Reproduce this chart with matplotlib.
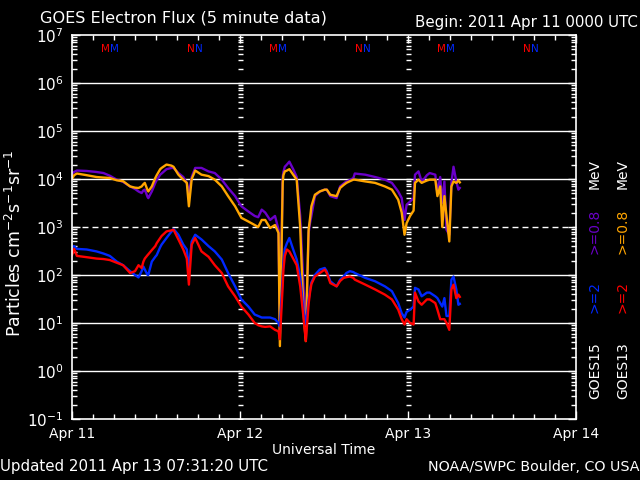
import numpy as np
import matplotlib
matplotlib.use('Agg')
import matplotlib.pyplot as plt
from matplotlib.ticker import MultipleLocator, LogLocator, NullFormatter, FixedLocator

# hours since 2011 Apr 11 0000 UTC
hours = [0.0, 0.3, 0.7, 2.1, 3.5, 4.5, 5.4, 6.4, 7.3, 8.3, 9.0, 9.5, 9.95, 10.2, 10.4, 10.8, 10.9,
         11.4, 11.9, 12.1, 12.6, 12.8, 13.5, 14.2, 14.5, 15.2, 15.9, 16.4, 16.7, 17.1, 17.6, 18.5,
         19.5, 20.4, 21.4, 22.3, 23.3, 24.2, 25.2, 26.1, 26.6, 27.1, 27.6, 28.3, 29.0, 29.5, 29.7,
         30.1, 30.2, 30.4, 30.7, 31.05, 31.6, 32.1, 32.6, 33.05, 33.4, 33.8, 34.0, 34.2, 34.7, 35.4,
         36.1, 36.4, 36.9, 37.8, 38.3, 38.8, 39.2, 39.7, 40.2, 40.4, 41.9, 43.3, 44.7, 45.7, 46.6,
         47.1, 47.5, 47.8, 48.3, 48.8, 49.0, 49.5, 49.95, 50.4, 50.7, 51.1, 51.9, 52.2, 52.6, 52.9,
         53.2, 53.5, 53.9, 54.2, 54.5, 54.9, 55.2, 55.4]

# GOES15 >=0.8 MeV
g15_e08 = [1.3e4, 1.4e4, 1.5e4, 1.47e4, 1.4e4, 1.33e4, 1.17e4, 9.7e3, 8.7e3, 7.0e3, 6.2e3, 5.5e3, 5.1e3, 5.8e3, 6.0e3, 4.2e3, 4.0e3,
           5.5e3, 8.3e3, 9.5e3, 1.23e4, 1.3e4, 1.6e4, 1.7e4, 1.7e4, 1.33e4, 1.1e4, 8.3e3, 5.1e3, 1.1e4, 1.7e4, 1.7e4,
           1.44e4, 1.33e4, 9.7e3, 6.5e3, 4.4e3, 2.7e3, 2.1e3, 1.7e3, 1.6e3, 2.3e3, 2.0e3, 1.4e3, 1.7e3, 8.8e2, 6.0,
           1.1e4, 1.4e4, 1.8e4, 2.0e4, 2.3e4, 1.6e4, 1.1e4, 1.7e3, 6.8e1, 7.2, 7.5e2, 1.2e3, 1.7e3, 4.4e3, 5.5e3,
           6.0e3, 6.0e3, 4.4e3, 4.0e3, 7.0e3, 8.0e3, 8.9e3, 9.5e3, 1.05e4, 1.3e4, 1.23e4, 1.1e4, 9.7e3, 8.3e3, 5.5e3,
           4.0e3, 1.4e3, 2.9e3, 3.4e3, 4.0e3, 1.23e4, 1.44e4, 8.9e3, 1.05e4, 1.2e4, 1.33e4, 1.23e4, 5.1e3, 1.1e4, 3.2e3,
           8.9e3, 8.8e2, 6.9e2, 8.3e3, 1.8e4, 8.9e3, 6.0e3, 6.5e3]

# GOES13 >=0.8 MeV
g13_e08 = [1.0e4, 1.2e4, 1.3e4, 1.2e4, 1.1e4, 1.07e4, 1.05e4, 9.4e3, 9.0e3, 7.0e3, 6.6e3, 6.5e3, 7.0e3, 7.8e3, 8.3e3, 5.8e3, 5.5e3,
           7.0e3, 1.05e4, 1.2e4, 1.6e4, 1.7e4, 2.0e4, 1.9e4, 1.8e4, 1.23e4, 9.7e3, 8.3e3, 2.7e3, 1.0e4, 1.5e4, 1.23e4,
           1.15e4, 9.7e3, 7.0e3, 4.4e3, 2.7e3, 1.55e3, 1.3e3, 1.1e3, 1.0e3, 1.4e3, 1.4e3, 9.5e2, 1.1e3, 7.5e2, 3.3,
           8.3e3, 1.2e4, 1.44e4, 1.5e4, 1.6e4, 1.23e4, 9.7e3, 1.0e3, 1.9e1, 4.2, 8.8e2, 1.5e3, 2.7e3, 4.7e3, 5.5e3,
           6.0e3, 6.0e3, 4.7e3, 4.4e3, 6.5e3, 7.5e3, 8.3e3, 9.0e3, 9.7e3, 9.7e3, 8.9e3, 8.3e3, 7.0e3, 6.0e3, 3.7e3,
           2.0e3, 6.9e2, 1.2e3, 1.7e3, 2.2e3, 8.3e3, 9.7e3, 8.3e3, 8.9e3, 9.3e3, 9.7e3, 9.7e3, 4.4e3, 7.0e3, 1.0e3,
           4.4e3, 1.7e3, 5.0e2, 7.0e3, 8.9e3, 8.3e3, 9.3e3, 8.5e3]

# GOES15 >=2 MeV
g15_e2 = [3.8e2, 4.0e2, 3.5e2, 3.4e2, 3.1e2, 2.8e2, 2.5e2, 1.9e2, 1.6e2, 1.2e2, 1.0e2, 8.9e1, 1.2e2, 1.5e2, 1.3e2, 1.0e2, 1.0e2,
          1.9e2, 2.4e2, 2.6e2, 3.8e2, 4.3e2, 5.9e2, 8.0e2, 9.1e2, 6.9e2, 4.3e2, 3.4e2, 1.4e2, 5.0e2, 6.9e2, 5.5e2,
          4.0e2, 3.1e2, 2.1e2, 1.1e2, 5.8e1, 3.1e1, 2.2e1, 1.5e1, 1.4e1, 1.3e1, 1.3e1, 1.3e1, 1.2e1, 1.0e1, 8.5,
          1.0e2, 1.8e2, 3.5e2, 4.6e2, 5.9e2, 3.4e2, 2.1e2, 9.3e1, 1.9e1, 9.3, 3.0e1, 4.9e1, 7.0e1, 1.0e2, 1.3e2,
          1.4e2, 1.2e2, 7.4e1, 5.8e1, 8.0e1, 9.3e1, 1.1e2, 1.2e2, 1.15e2, 1.1e2, 8.7e1, 7.4e1, 5.8e1, 4.6e1, 2.6e1,
          1.6e1, 1.3e1, 1.7e1, 1.9e1, 2.2e1, 5.4e1, 5.0e1, 3.6e1, 4.0e1, 4.3e1, 4.3e1, 3.6e1, 3.3e1, 2.6e1, 2.2e1,
          3.3e1, 1.4e1, 1.4e1, 8.0e1, 9.3e1, 5.0e1, 2.4e1, 2.5e1]

# GOES13 >=2 MeV
g13_e2 = [2.6e2, 3.5e2, 2.5e2, 2.35e2, 2.2e2, 2.15e2, 2.05e2, 1.8e2, 1.6e2, 1.1e2, 1.2e2, 1.6e2, 1.4e2, 1.9e2, 2.2e2, 2.6e2, 2.7e2,
          3.3e2, 4.0e2, 4.6e2, 5.9e2, 6.5e2, 8.1e2, 8.5e2, 8.8e2, 5.5e2, 3.4e2, 2.2e2, 6.3e1, 4.3e2, 5.9e2, 3.1e2,
          2.4e2, 1.6e2, 1.1e2, 5.8e1, 3.6e1, 2.2e1, 1.5e1, 1.0e1, 9.0, 8.5, 8.3, 8.5, 7.2, 6.7, 4.6,
          6.0e1, 1.3e2, 2.5e2, 3.4e2, 3.1e2, 2.2e2, 1.6e2, 5.8e1, 1.4e1, 4.2, 2.5e1, 4.3e1, 6.5e1, 9.3e1, 1.1e2,
          1.3e2, 1.1e2, 6.8e1, 5.8e1, 7.5e1, 8.7e1, 9.0e1, 9.3e1, 8.7e1, 8.0e1, 6.3e1, 5.0e1, 3.9e1, 3.1e1, 1.9e1,
          1.2e1, 9.3, 1.2e1, 1.0e1, 9.3, 4.3e1, 2.8e1, 2.4e1, 2.8e1, 3.1e1, 3.1e1, 2.6e1, 1.9e1, 1.2e1, 1.2e1,
          1.2e1, 1.0e1, 7.2, 5.0e1, 6.3e1, 3.3e1, 3.9e1, 3.5e1]

day_labels = ['Apr 11', 'Apr 12', 'Apr 13', 'Apr 14']
# local midnight (M) / noon (N) markers, UTC hour where GOES13 (red) and GOES15 (blue) letters meet
midnight_hour = 5.45
noon_hour = 17.55

purple = '#6a00c8'
orange = '#ffa500'
blue = '#0028ff'
red = '#ff0000'

fig = plt.figure(figsize=(6.4, 4.8), dpi=100, facecolor='black')
ax = fig.add_axes([72/640, 61/480, 504/640, 384/480], facecolor='black')

days = np.array(hours) / 24.0

# grid lines
for k in range(0, 7):
    if k == 3:
        ax.axhline(10.0**k, color='white', lw=1.0, dashes=(4.3, 2.9))
    else:
        ax.axhline(10.0**k, color='white', lw=1.0)

# minor tick columns at day boundaries
col_vals = [m * 10.0**k for k in range(-1, 7) for m in range(1, 10)]
for d in [1, 2]:
    ax.plot([d] * len(col_vals), col_vals, ls='none', marker='_', ms=3.6, mew=1.0, color='white')

ax.plot(days, g15_e08, color=purple, lw=1.7)
ax.plot(days, g13_e08, color=orange, lw=1.7)
ax.plot(days, g15_e2, color=blue, lw=1.7)
ax.plot(days, g13_e2, color=red, lw=1.7)

ax.set_yscale('log')
ax.set_ylim(1e-1, 1e7)
ax.set_xlim(0, 3)

ax.xaxis.set_major_locator(FixedLocator([0, 1, 2, 3]))
ax.xaxis.set_minor_locator(MultipleLocator(0.125))
ax.set_xticklabels(day_labels, fontsize=10, color='white')
ax.yaxis.set_minor_locator(LogLocator(base=10, subs=range(2, 10), numticks=20))
ax.yaxis.set_minor_formatter(NullFormatter())
ax.set_yticks([10.0**k for k in range(-1, 8)])
ax.set_yticklabels(['$10^{%d}$' % k for k in range(-1, 8)], fontsize=11, color='white')

ax.tick_params(which='both', direction='in', top=True, right=True, color='white', width=1)
ax.tick_params(which='major', length=6, pad=6)
ax.tick_params(which='minor', length=3.5)
for s in ax.spines.values():
    s.set_color('white')
    s.set_linewidth(1.2)

ax.set_xlabel('Universal Time', color='white', fontsize=10, labelpad=1)
ax.set_ylabel('Particles cm$^{-2}$s$^{-1}$sr$^{-1}$', color='white', fontsize=12.5)
ax.yaxis.set_label_coords(-0.093, 0.458)

# M / N markers
for day in range(3):
    ax.text(day + midnight_hour / 24.0, 5e6, 'M', color=red, fontsize=7.5, ha='right', va='center')
    ax.text(day + midnight_hour / 24.0, 5e6, 'M', color=blue, fontsize=7.5, ha='left', va='center')
    ax.text(day + noon_hour / 24.0, 5e6, 'N', color=red, fontsize=7.5, ha='right', va='center')
    ax.text(day + noon_hour / 24.0, 5e6, 'N', color=blue, fontsize=7.5, ha='left', va='center')

def px(x, y):
    return x / 640.0, 1 - y / 480.0

fig.text(*px(40, 18), 'GOES Electron Flux (5 minute data)', color='white', fontsize=11.6, ha='left', va='center')
fig.text(*px(638, 23), 'Begin: 2011 Apr 11 0000 UTC', color='white', fontsize=10.8, ha='right', va='center')
fig.text(*px(0, 467), 'Updated 2011 Apr 13 07:31:20 UTC', color='white', fontsize=10.8, ha='left', va='center')
fig.text(*px(639, 467), 'NOAA/SWPC Boulder, CO USA', color='white', fontsize=10.3, ha='right', va='center')

# legend along the right side
legend_cols = [(595, ['GOES15', '>=2', '>=0.8', 'MeV'], ['white', blue, purple, 'white']),
               (623, ['GOES13', '>=2', '>=0.8', 'MeV'], ['white', red, orange, 'white'])]
legend_y = [371, 297, 231, 174]
for x, texts, colors in legend_cols:
    for t, c, y in zip(texts, colors, legend_y):
        fig.text(*px(x, y), t, color=c, fontsize=10, rotation=90, ha='center', va='center')

fig.savefig('out.png', dpi=100, facecolor='black')
